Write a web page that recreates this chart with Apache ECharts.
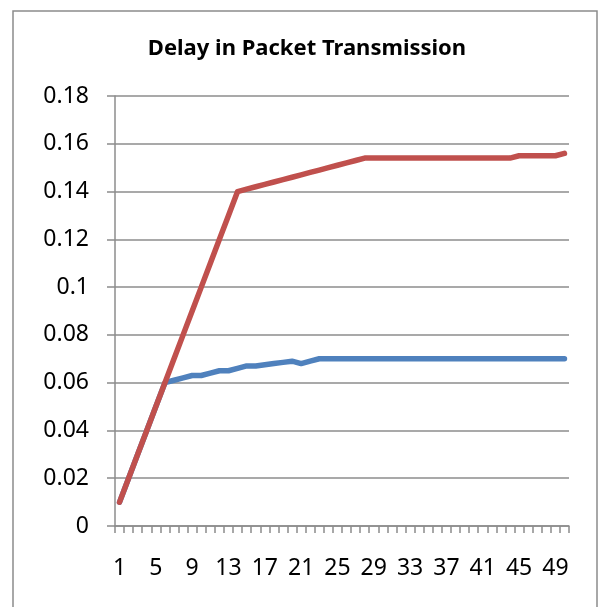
<!DOCTYPE html>
<html>
<head>
<meta charset="utf-8">
<script src="https://cdn.jsdelivr.net/npm/echarts@6/dist/echarts.min.js"></script>
<style>
  html, body { margin: 0; padding: 0; background: #fff; }
  #chart { width: 598px; height: 607px; }
</style>
</head>
<body>
<div id="chart"></div>
<script>
// Packet index 1..50
const packets = Array.from({ length: 50 }, (_, i) => String(i + 1));

// Delay values (seconds) per packet
const delayBlue = [
  0.010, 0.020, 0.030, 0.040, 0.050, 0.060, 0.061, 0.062, 0.063, 0.063,
  0.064, 0.065, 0.065, 0.066, 0.067, 0.067, 0.0675, 0.068, 0.0685, 0.069,
  0.068, 0.069, 0.070, 0.070, 0.070, 0.070, 0.070, 0.070, 0.070, 0.070,
  0.070, 0.070, 0.070, 0.070, 0.070, 0.070, 0.070, 0.070, 0.070, 0.070,
  0.070, 0.070, 0.070, 0.070, 0.070, 0.070, 0.070, 0.070, 0.070, 0.070
];
const delayRed = [
  0.010, 0.020, 0.030, 0.040, 0.050, 0.060, 0.070, 0.080, 0.090, 0.100,
  0.110, 0.120, 0.130, 0.140, 0.141, 0.142, 0.143, 0.144, 0.145, 0.146,
  0.147, 0.148, 0.149, 0.150, 0.151, 0.152, 0.153, 0.154, 0.154, 0.154,
  0.154, 0.154, 0.154, 0.154, 0.154, 0.154, 0.154, 0.154, 0.154, 0.154,
  0.154, 0.154, 0.154, 0.154, 0.155, 0.155, 0.155, 0.155, 0.155, 0.156
];

const titleText = 'Delay in Packet Transmission';
const yTicks = { min: 0, max: 0.18, interval: 0.02 };

const gray = '#8c8c8c';
const font = '"Noto Sans", "Open Sans", sans-serif';

const chart = echarts.init(document.getElementById('chart'), null, { renderer: 'canvas' });
chart.setOption({
  animation: false,
  backgroundColor: '#fff',
  graphic: [{
    type: 'rect',
    shape: { x: 13, y: 11, width: 584, height: 620 },
    style: { fill: 'none', stroke: gray, lineWidth: 1.5 },
    silent: true
  }],
  title: {
    text: titleText,
    left: 302, top: 33,
    textAlign: 'center',
    textStyle: { fontFamily: font, fontSize: 22, fontWeight: 'bold', color: '#000' }
  },
  grid: { left: 115, right: 29, top: 96, bottom: 81, containLabel: false },
  xAxis: {
    type: 'category',
    data: packets,
    boundaryGap: true,
    axisLine: { lineStyle: { color: gray, width: 1.5 } },
    axisTick: { show: true, interval: 0, length: 7, lineStyle: { color: gray, width: 1.5 } },
    axisLabel: {
      interval: 3, margin: 31, color: '#000',
      fontFamily: font, fontSize: 23
    },
    splitLine: { show: false }
  },
  yAxis: {
    type: 'value',
    min: yTicks.min, max: yTicks.max, interval: yTicks.interval,
    axisLine: { show: true, lineStyle: { color: gray, width: 1.5 } },
    axisTick: { show: true, length: 8, lineStyle: { color: gray, width: 1.5 } },
    axisLabel: {
      margin: 26, color: '#000', fontFamily: font, fontSize: 23,
      formatter: v => String(Number(v.toFixed(2)))
    },
    splitLine: { show: true, lineStyle: { color: gray, width: 1.5 } }
  },
  series: [
    {
      type: 'line', data: delayBlue, showSymbol: false,
      lineStyle: { color: '#4F81BD', width: 5.5, cap: 'round', join: 'round' },
      itemStyle: { color: '#4F81BD' }
    },
    {
      type: 'line', data: delayRed, showSymbol: false,
      lineStyle: { color: '#C0504D', width: 5.5, cap: 'round', join: 'round' },
      itemStyle: { color: '#C0504D' }
    }
  ]
});
</script>
</body>
</html>
